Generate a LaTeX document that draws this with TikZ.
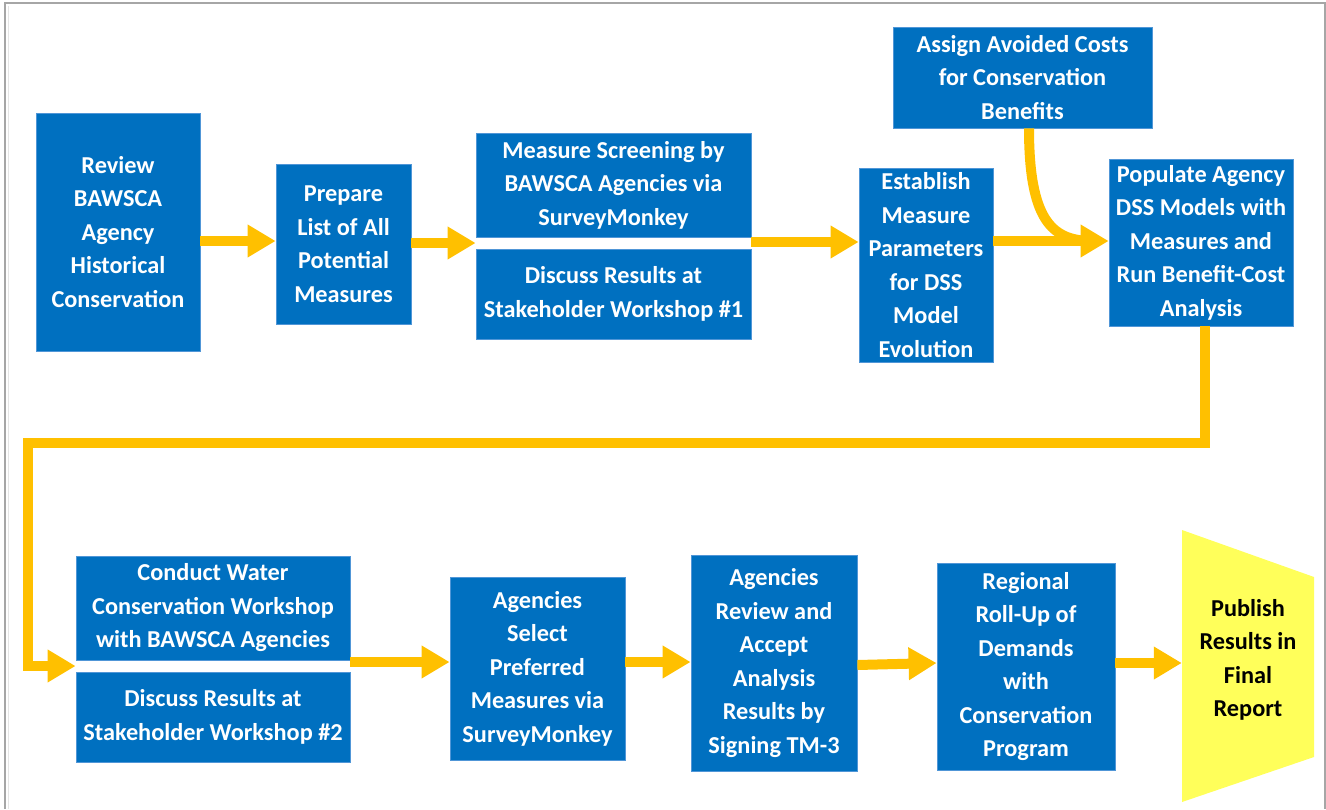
\documentclass[tikz,border=0pt]{standalone}
\usepackage{fontspec}
\setmainfont{Carlito}
\usetikzlibrary{arrows.meta,calc}
\definecolor{boxblue}{RGB}{0,112,192}
\definecolor{boxedge}{RGB}{80,150,215}
\definecolor{arrowyellow}{RGB}{255,192,0}
\definecolor{pubyellow}{RGB}{255,255,90}
\begin{document}
\begin{tikzpicture}[x=1pt,y=-1pt,
  bluebox/.style={rectangle, fill=boxblue, draw=boxedge, line width=0.8pt, inner sep=0pt,
    text=white, align=center, font=\fontsize{24.3}{33.5}\selectfont\bfseries},
  flow/.style={draw=arrowyellow, line width=10pt, -{Triangle[width=31pt,length=28pt]}},
  flowline/.style={draw=arrowyellow, line width=10pt}
]
\useasboundingbox (0,0) rectangle (1326,809);
\draw[gray!70, line width=2pt] (5,809) -- (5,3) -- (1325,3) -- (1325,809);
\draw[gray!20, line width=1pt] (8,809) -- (8,6);

% top row
\node[bluebox, minimum width=164pt, minimum height=238pt] (review) at (118,232)
  {Review\\BAWSCA\\Agency\\Historical\\Conservation};
\node[bluebox, minimum width=135pt, minimum height=160pt] (prepare) at (343.5,244)
  {Prepare\\List of All\\Potential\\Measures};
\node[bluebox, minimum width=275pt, minimum height=104pt] (screen) at (613.5,185)
  {Measure Screening by\\BAWSCA Agencies via\\SurveyMonkey};
\node[bluebox, minimum width=275pt, minimum height=90pt] (discA) at (613.5,294)
  {Discuss Results at\\Stakeholder Workshop \#1};
\node[bluebox, minimum width=134pt, minimum height=194pt] (establish) at (926,265)
  {Establish\\Measure\\Parameters\\for DSS\\Model\\Evolution};
\node[bluebox, minimum width=259pt, minimum height=101pt] (assign) at (1022.5,77.5)
  {Assign Avoided Costs\\for Conservation\\Benefits};
\node[bluebox, minimum width=184pt, minimum height=167pt] (populate) at (1201,242.5)
  {Populate Agency\\DSS Models with\\Measures and\\Run Benefit-Cost\\Analysis};

% bottom row
\node[bluebox, minimum width=274pt, minimum height=104pt] (conduct) at (213,608)
  {Conduct Water\\Conservation Workshop\\with BAWSCA Agencies};
\node[bluebox, minimum width=274pt, minimum height=90pt] (discB) at (213,717)
  {Discuss Results at\\Stakeholder Workshop \#2};
\node[bluebox, minimum width=175pt, minimum height=183pt] (select) at (537.5,668.5)
  {Agencies\\Select\\Preferred\\Measures via\\SurveyMonkey};
\node[bluebox, minimum width=166pt, minimum height=216pt] (accept) at (774,663)
  {Agencies\\Review and\\Accept\\Analysis\\Results by\\Signing TM-3};
\node[bluebox, minimum width=178pt, minimum height=207pt] (regional) at (1026,666.5)
  {Regional\\Roll-Up of\\Demands\\with\\Conservation\\Program};

\fill[pubyellow] (1182,530) -- (1314,577) -- (1314,757) -- (1182,802) -- cycle;
\node[inner sep=0pt, minimum width=132pt, minimum height=272pt, align=center,
  font=\fontsize{24.3}{33.5}\selectfont\bfseries, text=black] (publish) at (1248,660)
  {Publish\\Results in\\Final\\Report};

% connectors
\draw[flow] (review.east |- 0,241) -- (prepare.west |- 0,241);
\draw[flow] (prepare.east |- 0,243) -- (screen.west |- 0,243);
\draw[flow] (screen.east |- 0,242) -- (establish.west |- 0,242);
\coordinate (merge) at (1090,241);
\draw[flowline] (1029,0 |- assign.south) .. controls (1029,220) and (1052,240) .. (merge);
\draw[flow] (establish.east |- 0,241) -- (populate.west |- 0,241);
\draw[flow] (1205,0 |- populate.south) -- (1205,443) -- (28,443) -- (28,666) -- (conduct.west |- 0,666);
\draw[flow] (conduct.east |- 0,662) -- (select.west |- 0,662);
\draw[flow] (select.east |- 0,662) -- (accept.west |- 0,662);
\draw[flow] (accept.east |- 0,665) -- (regional.west |- 0,663);
\draw[flow] (regional.east |- 0,663) -- (publish.west |- 0,663);
\end{tikzpicture}
\end{document}
